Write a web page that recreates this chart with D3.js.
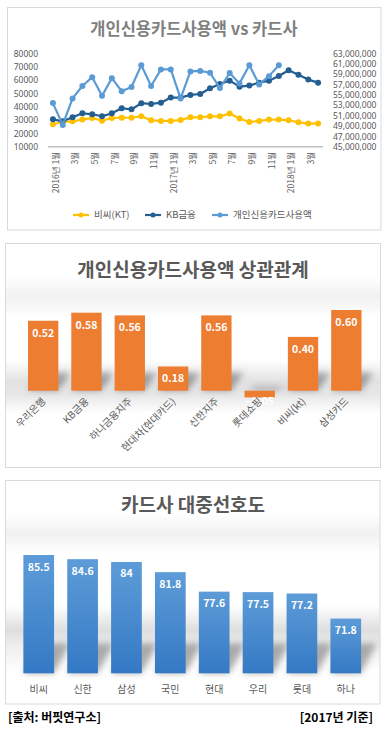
<!DOCTYPE html>
<html>
<head>
<meta charset="utf-8">
<script src="https://cdn.jsdelivr.net/npm/d3@7"></script>
<style>
  body { margin: 0; background: #fff; }
  svg { display: block; font-family: 'Noto Sans CJK KR', 'Noto Sans', sans-serif; }
</style>
</head>
<body>
<script>
// ---- data ----
var months = ['2016년 1월','2월','3월','4월','5월','6월','7월','8월','9월','10월','11월','12월',
              '2017년 1월','2월','3월','4월','5월','6월','7월','8월','9월','10월','11월','12월',
              '2018년 1월','2월','3월','4월'];
var ktPrice = [26800,28500,29000,30300,31500,29500,31500,31700,31700,32800,29800,29300,29300,30000,
               32000,32000,32800,32800,34800,31200,28500,29300,30300,30300,29800,28300,27300,27300];
var kbPrice = [30500,29000,32000,35000,34300,32800,35000,38800,38000,42600,42000,43000,46800,46800,
               48800,49500,53800,57000,59500,55000,55800,58000,59500,63000,67300,64000,60300,58000];
var cardUsage = [53400000,49200000,54300000,56700000,58400000,54800000,58200000,55700000,56500000,60700000,
                 56700000,59900000,59900000,54300000,59500000,59600000,59250000,56300000,59200000,57200000,
                 60700000,57000000,58600000,60700000];
var leftTicks = [10000,20000,30000,40000,50000,60000,70000,80000];
var rightTicks = [45000000,47000000,49000000,51000000,53000000,55000000,57000000,59000000,61000000,63000000];
var seriesNames = ['비씨(KT)','KB금융','개인신용카드사용액'];

var corrNames = ['우리은행','KB금융','하나금융지주','현대차(현대카드)','신한지주','롯데쇼핑','비씨(kt)','삼성카드'];
var corrValues = [0.52,0.58,0.56,0.18,0.56,-0.05,0.40,0.60];

var prefNames = ['비씨','신한','삼성','국민','현대','우리','롯데','하나'];
var prefValues = [85.5,84.6,84,81.8,77.6,77.5,77.2,71.8];

var W = 387, H = 731;
var svg = d3.select('body').append('svg').attr('width', W).attr('height', H);
var defs = svg.append('defs');

var blur = defs.append('filter').attr('id', 'blur').attr('x', '-50%').attr('y', '-50%').attr('width', '200%').attr('height', '200%');
blur.append('feGaussianBlur').attr('stdDeviation', 3);

function bandGrad(id, y0, y1, stops) {
  var g = defs.append('linearGradient').attr('id', id)
    .attr('gradientUnits', 'userSpaceOnUse').attr('x1', 0).attr('x2', 0).attr('y1', y0).attr('y2', y1);
  stops.forEach(function(s) { g.append('stop').attr('offset', s[0]).attr('stop-color', s[1]); });
}
bandGrad('bgMid', 243, 467, [[0,'#fff'],[0.15,'#fff'],[0.24,'#f1f1f1'],[0.33,'#fff'],[0.52,'#fff'],[0.62,'#e2e2e2'],[0.68,'#e8e8e8'],[0.76,'#fff'],[1,'#fff']]);
bandGrad('bgBot', 480, 704, [[0,'#fff'],[0.15,'#fff'],[0.24,'#f1f1f1'],[0.33,'#fff'],[0.56,'#fff'],[0.67,'#dedede'],[0.74,'#eeeeee'],[0.86,'#fff'],[1,'#fff']]);
var bg = defs.append('linearGradient').attr('id', 'blueBar').attr('x1', 0).attr('x2', 0).attr('y1', 0).attr('y2', 1);
bg.append('stop').attr('offset', 0).attr('stop-color', '#5d9cd8');
bg.append('stop').attr('offset', 1).attr('stop-color', '#3479c4');

// ---- panel 1: line chart ----
svg.append('rect').attr('x', 7.5).attr('y', 7.5).attr('width', 373.5).attr('height', 222.5)
  .attr('fill', '#fff').attr('stroke', '#d9d9d9');
svg.append('text').attr('x', 194).attr('y', 35).attr('text-anchor', 'middle')
  .attr('font-size', 16.5).attr('font-weight', 'bold').attr('fill', '#7f7f7f')
  .text('개인신용카드사용액 vs 카드사');

// month labels repeat across years, so the band scale is keyed by index
var x = d3.scaleBand().domain(d3.range(months.length)).range([48, 323]);
var cx = function(i) { return x(i) + x.bandwidth() / 2; };
var yL = d3.scaleLinear().domain([10000, 80000]).range([146.7, 53.3]);
var yR = d3.scaleLinear().domain([45000000, 63000000]).range([146.7, 53.3]);

var axL = svg.append('g').attr('transform', 'translate(41,0)')
  .call(d3.axisLeft(yL).tickValues(leftTicks).tickSize(0).tickPadding(3).tickFormat(d3.format('d')));
var axR = svg.append('g').attr('transform', 'translate(330,0)')
  .call(d3.axisRight(yR).tickValues(rightTicks).tickSize(0).tickPadding(3).tickFormat(d3.format(',')));
[axL, axR].forEach(function(a) {
  a.select('.domain').remove();
  a.selectAll('text').attr('font-size', 8.5).attr('fill', '#595959').attr('font-family', "'Noto Sans', sans-serif");
});

svg.append('line').attr('x1', 48).attr('x2', 323).attr('y1', 146.7).attr('y2', 146.7)
  .attr('stroke', '#bfbfbf').attr('stroke-width', 1.5);

var tickIdx = d3.range(0, months.length, 2);
svg.append('g').selectAll('text').data(tickIdx).enter().append('text')
  .attr('transform', 'rotate(-90)')
  .attr('x', -152)
  .attr('y', function(d) { return cx(d) + 2.8; })
  .attr('dy', '0.35em')
  .attr('text-anchor', 'end')
  .attr('font-size', 8.5).attr('fill', '#595959')
  .text(function(d) { return months[d]; });

var series = [
  { vals: ktPrice, y: yL, color: '#ffc000' },
  { vals: kbPrice, y: yL, color: '#255e91' },
  { vals: cardUsage, y: yR, color: '#5b9bd5' }
];
series.forEach(function(s) {
  var line = d3.line()
    .x(function(d, i) { return cx(i); })
    .y(function(d) { return s.y(d); });
  svg.append('path').datum(s.vals).attr('d', line)
    .attr('fill', 'none').attr('stroke', s.color).attr('stroke-width', 2.2).attr('stroke-linejoin', 'round');
  svg.append('g').selectAll('circle').data(s.vals).enter().append('circle')
    .attr('cx', function(d, i) { return cx(i); })
    .attr('cy', function(d) { return s.y(d); })
    .attr('r', 3).attr('fill', s.color);
});

// legend
var legX = [73, 145, 212];
var leg = svg.append('g').selectAll('g').data(series).enter().append('g')
  .attr('transform', function(d, i) { return 'translate(' + legX[i] + ',215)'; });
leg.append('line').attr('x1', 0).attr('x2', 16).attr('stroke', function(d) { return d.color; }).attr('stroke-width', 2.2);
leg.append('circle').attr('cx', 8).attr('r', 2.5).attr('fill', function(d) { return d.color; });
leg.append('text').attr('x', 21).attr('dy', '0.35em').attr('font-size', 9.5).attr('fill', '#595959')
  .text(function(d, i) { return seriesNames[i]; });

// ---- panel 2: correlation bars ----
svg.append('rect').attr('x', 5.5).attr('y', 243.5).attr('width', 375).attr('height', 224)
  .attr('fill', 'url(#bgMid)').attr('stroke', '#d9d9d9');
svg.append('text').attr('x', 193).attr('y', 277).attr('text-anchor', 'middle')
  .attr('font-size', 19).attr('font-weight', 'bold').attr('fill', '#595959')
  .text('개인신용카드사용액 상관관계');

var xc = d3.scaleBand().domain(corrNames).range([21.5, 368]).paddingInner(0.3).paddingOuter(0.15);
var yc = d3.scaleLinear().domain([0, 0.6]).range([390.7, 310]);

svg.append('g').attr('filter', 'url(#blur)').selectAll('path').data(corrValues).enter().append('path')
  .attr('d', function(d, i) {
    var x0 = xc(corrNames[i]), x1 = x0 + xc.bandwidth(), b = yc(0), h = d > 0 ? Math.min(18, yc(0) - yc(d)) : 4;
    return 'M' + x0 + ',' + b + 'L' + x1 + ',' + b + 'L' + (x1 + 12) + ',' + (b - h) + 'L' + (x0 + 12) + ',' + (b - h) + 'Z';
  })
  .attr('fill', '#6f6f6f').attr('opacity', 0.6);

svg.append('g').selectAll('rect').data(corrValues).enter().append('rect')
  .attr('x', function(d, i) { return xc(corrNames[i]); })
  .attr('width', xc.bandwidth())
  .attr('y', function(d) { return yc(Math.max(0, d)); })
  .attr('height', function(d) { return Math.abs(yc(d) - yc(0)); })
  .attr('fill', '#ed7d31');

svg.append('g').selectAll('text').data(corrValues).enter().append('text')
  .attr('x', function(d, i) { return xc(corrNames[i]) + xc.bandwidth() / 2; })
  .attr('y', function(d) { return d >= 0 ? yc(d) + 16 : yc(d) + 8; })
  .attr('text-anchor', 'middle').attr('font-size', 10.5).attr('font-weight', 'bold').attr('fill', '#fff')
  .text(function(d) { return d3.format('.2f')(d); });

svg.append('g').selectAll('text').data(corrNames).enter().append('text')
  .attr('transform', function(d) {
    return 'translate(' + (xc(d) + xc.bandwidth() / 2 + 3) + ',402) rotate(-45)';
  })
  .attr('text-anchor', 'end').attr('font-size', 10).attr('fill', '#595959')
  .text(function(d) { return d; });

// ---- panel 3: preference bars ----
svg.append('rect').attr('x', 5.5).attr('y', 480.5).attr('width', 374.5).attr('height', 223.5)
  .attr('fill', 'url(#bgBot)').attr('stroke', '#d9d9d9');
svg.append('text').attr('x', 193).attr('y', 512).attr('text-anchor', 'middle')
  .attr('font-size', 19).attr('font-weight', 'bold').attr('fill', '#595959')
  .text('카드사 대중선호도');

var xp = d3.scaleBand().domain(prefNames).range([16.8, 367.7]).paddingInner(0.3).paddingOuter(0.15);
var yp = d3.scaleLinear().domain([60, 85.5]).range([673.3, 555]);

svg.append('g').attr('filter', 'url(#blur)').selectAll('path').data(prefValues).enter().append('path')
  .attr('d', function(d, i) {
    var x0 = xp(prefNames[i]), x1 = x0 + xp.bandwidth(), b = yp(60), h = 30;
    return 'M' + x0 + ',' + b + 'L' + x1 + ',' + b + 'L' + (x1 + 16) + ',' + (b - h) + 'L' + (x0 + 16) + ',' + (b - h) + 'Z';
  })
  .attr('fill', '#6f6f6f').attr('opacity', 0.55);

svg.append('g').selectAll('rect').data(prefValues).enter().append('rect')
  .attr('x', function(d, i) { return xp(prefNames[i]); })
  .attr('width', xp.bandwidth())
  .attr('y', function(d) { return yp(d); })
  .attr('height', function(d) { return yp(60) - yp(d); })
  .attr('fill', 'url(#blueBar)');

svg.append('g').selectAll('text').data(prefValues).enter().append('text')
  .attr('x', function(d, i) { return xp(prefNames[i]) + xp.bandwidth() / 2; })
  .attr('y', function(d) { return yp(d) + 15.5; })
  .attr('text-anchor', 'middle').attr('font-size', 10.5).attr('font-weight', 'bold').attr('fill', '#fff')
  .text(function(d) { return d; });

svg.append('g').selectAll('text').data(prefNames).enter().append('text')
  .attr('x', function(d) { return xp(d) + xp.bandwidth() / 2; })
  .attr('y', 693)
  .attr('text-anchor', 'middle').attr('font-size', 10).attr('fill', '#595959')
  .text(function(d) { return d; });

// ---- footer ----
svg.append('text').attr('x', 8).attr('y', 722).attr('font-size', 12).attr('font-weight', 'bold').attr('fill', '#000')
  .text('[출처: 버핏연구소]');
svg.append('text').attr('x', 373).attr('y', 722).attr('text-anchor', 'end').attr('font-size', 12).attr('font-weight', 'bold').attr('fill', '#000')
  .text('[2017년 기준]');
</script>
</body>
</html>
